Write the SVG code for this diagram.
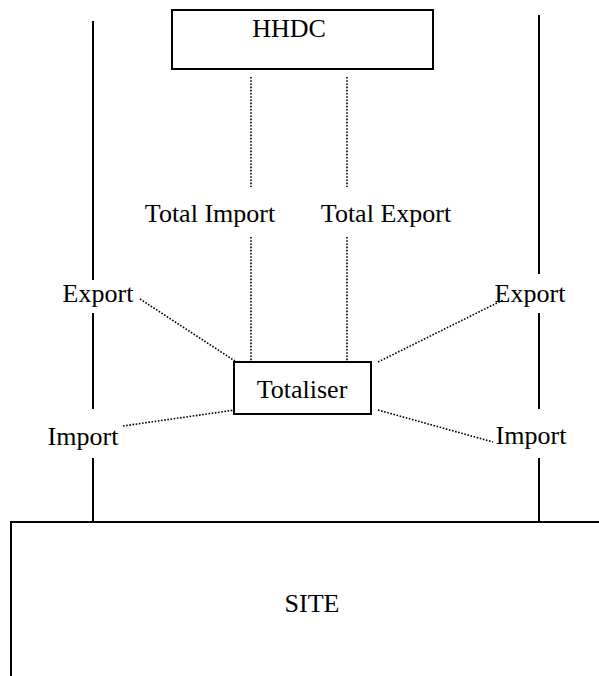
<svg xmlns="http://www.w3.org/2000/svg" width="599" height="676" viewBox="0 0 599 676">
<style>
.box{fill:#fff;stroke:#000;stroke-width:2}
.solid{stroke:#000;stroke-width:2;fill:none}
.dot{stroke:#000;stroke-width:1.6;stroke-dasharray:1.6 1.6;fill:none}
text{font-family:"Liberation Serif","Times New Roman",serif;font-size:26px;fill:#000}
</style>
<rect width="599" height="676" fill="#fff"/>
<g id="connectors">
<line class="solid" x1="93" y1="21" x2="93" y2="280"/>
<line class="solid" x1="93" y1="313" x2="93" y2="409"/>
<line class="solid" x1="93" y1="458" x2="93" y2="522"/>
<line class="solid" x1="539" y1="15" x2="539" y2="274"/>
<line class="solid" x1="539" y1="313" x2="539" y2="409"/>
<line class="solid" x1="539" y1="458" x2="539" y2="522"/>
<line class="dot" x1="251" y1="77" x2="251" y2="187"/>
<line class="dot" x1="251" y1="237" x2="251" y2="362"/>
<line class="dot" x1="347" y1="77" x2="347" y2="187"/>
<line class="dot" x1="347" y1="237" x2="347" y2="362"/>
<line class="dot" x1="140" y1="299" x2="235" y2="361"/>
<line class="dot" x1="378" y1="362" x2="503" y2="300"/>
<line class="dot" x1="123" y1="426" x2="235" y2="410"/>
<line class="dot" x1="378" y1="410" x2="493" y2="442"/>
</g>
<g id="hhdc">
<rect class="box" x="172" y="10" width="261" height="59"/>
<text x="289" y="37" text-anchor="middle">HHDC</text>
</g>
<g id="totaliser">
<rect class="box" x="234" y="362" width="137" height="52"/>
<text x="302" y="398" text-anchor="middle">Totaliser</text>
</g>
<g id="site">
<rect class="box" x="11" y="522" width="620" height="200"/>
<text x="312" y="612" text-anchor="middle">SITE</text>
</g>
<g id="labels">
<text x="210" y="222" text-anchor="middle">Total Import</text>
<text x="386" y="222" text-anchor="middle">Total Export</text>
<text x="98" y="302" text-anchor="middle">Export</text>
<text x="530" y="302" text-anchor="middle">Export</text>
<text x="83" y="445" text-anchor="middle">Import</text>
<text x="531" y="444" text-anchor="middle">Import</text>
</g>
</svg>
